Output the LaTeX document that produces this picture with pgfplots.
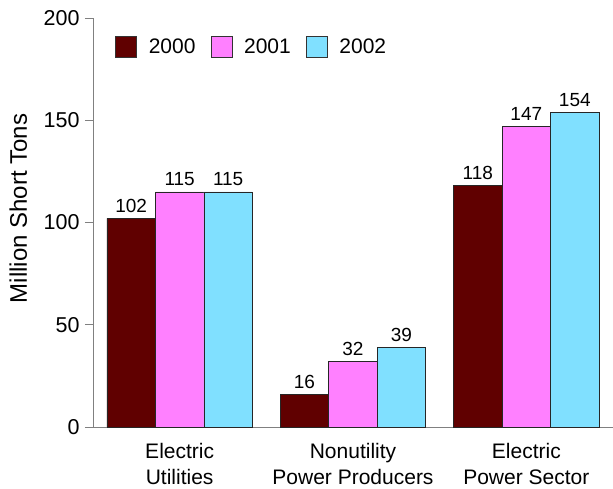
\documentclass[border=0pt]{standalone}
\usepackage{fontspec}
\setmainfont{Liberation Sans}
\usepackage{pgfplots}
\pgfplotsset{compat=1.18}
\definecolor{c2000}{HTML}{600000}
\definecolor{c2001}{HTML}{FF80FF}
\definecolor{c2002}{HTML}{80E0FF}
\definecolor{axgray}{HTML}{808080}
\begin{document}
\begin{tikzpicture}
\path[use as bounding box] (0,0) rectangle (613pt,488pt);
\begin{axis}[
  at={(93pt,61pt)}, anchor=south west,
  scale only axis, width=520pt, height=409pt,
  xmin=-0.5, xmax=2.5, ymin=0, ymax=200,
  axis x line=bottom, axis y line=left,
  axis line style={-, draw=axgray, line width=0.9pt},
  ybar=0pt, bar width=48.5pt,
  xtick={0,1,2},
  xticklabels={Electric\\Utilities, Nonutility\\Power Producers, Electric\\Power Sector},
  x tick style={draw=none},
  xticklabel style={align=center, font=\fontsize{21}{26}\selectfont, yshift=-5pt},
  ytick={0,50,100,150,200},
  y tick style={draw=axgray, line width=0.9pt},
  tick align=outside, major tick length=8pt,
  yticklabel style={font=\fontsize{21.5}{21.5}\selectfont, xshift=-2pt},
  /pgf/number format/assume math mode=true,
  ylabel={Million Short Tons},
  every axis y label/.style={at={(axis description cs:0,0.5)}, xshift=-66pt, yshift=14pt, anchor=base, rotate=90, font=\fontsize{24}{24}\selectfont},
  nodes near coords,
  every node near coord/.append style={font=\fontsize{19}{19}\selectfont, anchor=south, inner sep=0pt, yshift=5.5pt, text=black},
  legend style={at={(axis description cs:0,1)}, anchor=north west, xshift=22pt, yshift=-18pt,
    draw=none, fill=none, inner sep=0pt, legend columns=-1,
    font=\fontsize{21}{21}\selectfont,
    nodes={inner sep=0pt},
    /tikz/every odd column/.append style={column sep=12pt},
    /tikz/every even column/.append style={column sep=15pt}},
  legend image code/.code={\draw[#1, draw=black!80, line width=0.6pt] (0pt,-10.5pt) rectangle (21pt,10.5pt);},
  clip=false,
]
\addplot[fill=c2000, draw=black!85, line width=0.6pt] coordinates {(0,102) (1,16) (2,118)};
\addplot[fill=c2001, draw=black!85, line width=0.6pt] coordinates {(0,115) (1,32) (2,147)};
\addplot[fill=c2002, draw=black!85, line width=0.6pt] coordinates {(0,115) (1,39) (2,154)};
\legend{2000, 2001, 2002}
\end{axis}
\end{tikzpicture}
\end{document}
